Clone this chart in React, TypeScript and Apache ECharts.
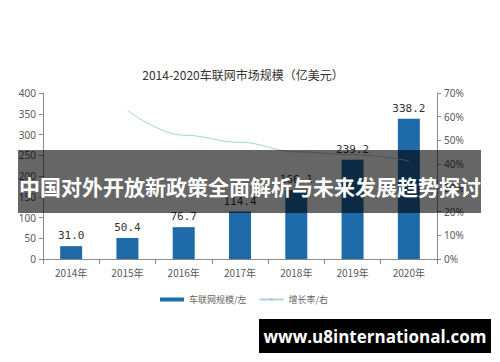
import React, { useEffect, useRef } from "react";
import * as echarts from "echarts";

const categories = ["2014年", "2015年", "2016年", "2017年", "2018年", "2019年", "2020年"];
const marketSize = [31.0, 50.4, 76.7, 114.4, 166.1, 239.2, 338.2];
const growthRate = [null, 62.6, 52.2, 49.2, 45.2, 44.0, 41.4];
const titleText = "2014-2020车联网市场规模（亿美元）";
const seriesNames = ["车联网规模/左", "增长率/右"];
const overlayText = "中国对外开放新政策全面解析与未来发展趋势探讨";
const siteText = "www.u8international.com";

export default function App() {
  const ref = useRef<HTMLDivElement>(null);
  useEffect(() => {
    if (!ref.current) return;
    const chart = echarts.init(ref.current, null, { renderer: "svg" });
    const axisColor = "#8c8c8c";
    const labelColor = "#595959";
    chart.setOption({
      animation: false,
      backgroundColor: "#ffffff",
      title: {
        text: titleText,
        left: 238,
        textAlign: "center",
        top: 63,
        textStyle: { fontSize: 12, fontWeight: "normal", color: "#333", fontFamily: "Noto Sans CJK SC" },
      },
      grid: { left: 43, right: 63, top: 93, bottom: 103 },
      legend: {
        left: 155,
        top: 290,
        itemWidth: 24,
        itemHeight: 4,
        itemGap: 12,
        textStyle: { fontSize: 9, color: "#666", fontFamily: "Noto Sans CJK SC" },
        data: [
          { name: seriesNames[0], icon: "rect" },
          { name: seriesNames[1] },
        ],
      },
      xAxis: {
        type: "category",
        data: categories,
        axisLine: { lineStyle: { color: axisColor } },
        axisTick: { show: true, alignWithLabel: false, lineStyle: { color: axisColor } },
        axisLabel: { color: labelColor, fontSize: 10, margin: 8, fontFamily: "Noto Sans CJK SC" },
      },
      yAxis: [
        {
          type: "value",
          min: 0,
          max: 400,
          interval: 50,
          axisLine: { show: true, lineStyle: { color: axisColor } },
          axisTick: { show: true, length: 4, lineStyle: { color: axisColor } },
          splitLine: { show: false },
          axisLabel: { color: labelColor, fontSize: 10, margin: 7, fontFamily: "Noto Sans" },
        },
        {
          type: "value",
          min: 0,
          max: 70,
          interval: 10,
          axisLine: { show: true, lineStyle: { color: axisColor } },
          axisTick: { show: true, length: 4, lineStyle: { color: axisColor } },
          splitLine: { show: false },
          axisLabel: { color: labelColor, fontSize: 10, margin: 7, formatter: "{value}%", fontFamily: "Noto Sans" },
        },
      ],
      series: [
        {
          name: seriesNames[0],
          type: "bar",
          data: marketSize,
          barWidth: 22,
          itemStyle: { color: "#1f6aa8" },
          label: {
            show: true,
            position: "top",
            distance: 5,
            formatter: (p: any) => p.value.toFixed(1),
            color: "#333",
            fontSize: 11,
            fontFamily: "DejaVu Sans Mono",
          },
        },
        {
          name: seriesNames[1],
          type: "line",
          yAxisIndex: 1,
          data: growthRate,
          smooth: 0.4,
          smoothMonotone: "x",
          symbol: "none",
          lineStyle: { color: "#a9d4dc", width: 1 },
          itemStyle: { color: "#a9d4dc" },
          z: 3,
        },
      ],
      graphic: [
        {
          type: "rect",
          shape: { x: 18, y: 150, width: 463, height: 63 },
          style: { fill: "rgba(0,0,0,0.6)" },
          z: 100,
        },
        {
          type: "text",
          x: 250,
          y: 186,
          style: {
            text: overlayText,
            fill: "#ffffff",
            font: "bold 21px 'Noto Sans CJK SC'",
            textAlign: "center",
            textVerticalAlign: "middle",
          },
          z: 101,
        },
        {
          type: "rect",
          shape: { x: 259, y: 319, width: 232, height: 34 },
          style: { fill: "#000000" },
          z: 100,
        },
        {
          type: "text",
          x: 375,
          y: 336,
          style: {
            text: siteText,
            fill: "#ffffff",
            font: "bold 17px 'Open Sans'",
            textAlign: "center",
            textVerticalAlign: "middle",
          },
          z: 101,
        },
      ],
    });
    return () => chart.dispose();
  }, []);
  return (
    <div
      ref={ref}
      style={{ position: "fixed", left: 0, top: 0, width: 500, height: 362 }}
    />
  );
}
